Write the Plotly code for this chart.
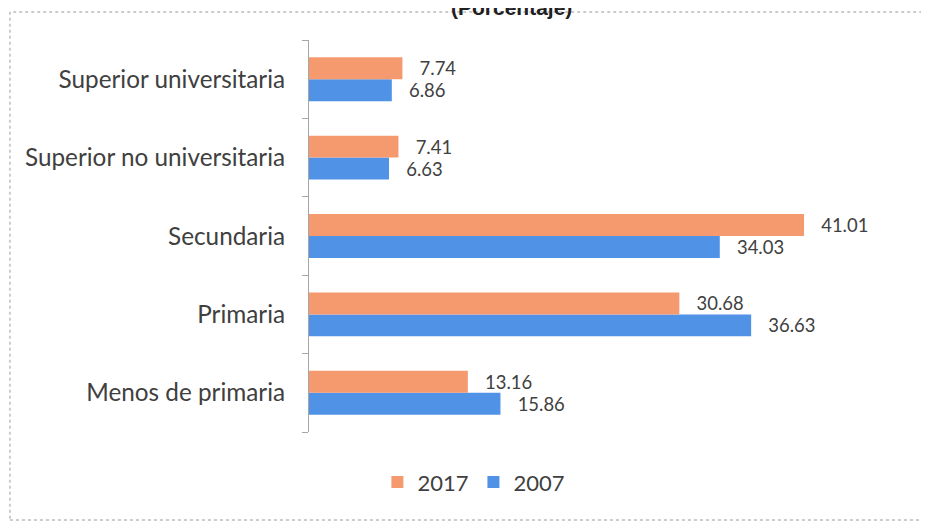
import plotly.graph_objects as go

categories = ["Menos de primaria", "Primaria", "Secundaria",
              "Superior no universitaria", "Superior universitaria"]
values_2017 = [13.16, 30.68, 41.01, 7.41, 7.74]
values_2007 = [15.86, 36.63, 34.03, 6.63, 6.86]

ORANGE = "#F59A6E"
BLUE = "#4F92E6"
TXT = "#404040"
FONT = "Lato, Open Sans, sans-serif"

fig = go.Figure()
fig.add_trace(go.Bar(
    y=categories, x=values_2007, name="2007", orientation="h",
    marker=dict(color=BLUE, line=dict(width=0)),
    text=values_2007, texttemplate="   %{x:.2f}", textposition="outside",
    textfont=dict(family=FONT, size=18.5, color=TXT), cliponaxis=False,
))
fig.add_trace(go.Bar(
    y=categories, x=values_2017, name="2017", orientation="h",
    marker=dict(color=ORANGE, line=dict(width=0)),
    text=values_2017, texttemplate="   %{x:.2f}", textposition="outside",
    textfont=dict(family=FONT, size=18.5, color=TXT), cliponaxis=False,
))

fig.update_layout(
    width=929, height=521,
    margin=dict(l=301, r=37, t=32, b=97),
    paper_bgcolor="white", plot_bgcolor="white",
    barmode="group", bargap=0.44, bargroupgap=0.0,
    font=dict(family=FONT, color=TXT),
    xaxis=dict(range=[0, 48.96], visible=False, fixedrange=True),
    yaxis=dict(showline=True, linecolor="#A6A6A6", linewidth=1,
               ticks="outside", tickson="boundaries", ticklen=6,
               tickcolor="#A6A6A6", showgrid=False, automargin=False,
               tickfont=dict(family=FONT, size=24.3, color=TXT),
               ticklabelstandoff=18),
    legend=dict(orientation="h", x=0.279, xanchor="center", y=-0.128,
                yanchor="middle", traceorder="reversed",
                font=dict(family=FONT, size=22, color=TXT),
                itemwidth=30),
    showlegend=True,
    shapes=[dict(type="rect", xref="paper", yref="paper",
                 x0=-0.506, x1=1.1, y0=-0.2245, y1=1.0714,
                 line=dict(color="#9A9A9A", width=1, dash="dot"))],
    annotations=[dict(text="<b>(Porcentaje)</b>", xref="paper", yref="paper",
                      x=0.342, y=1.084, xanchor="center", yanchor="middle",
                      showarrow=False,
                      font=dict(family="Liberation Sans, Arial", size=21,
                                color="#202020"))],
)

fig.write_html("out.html")
